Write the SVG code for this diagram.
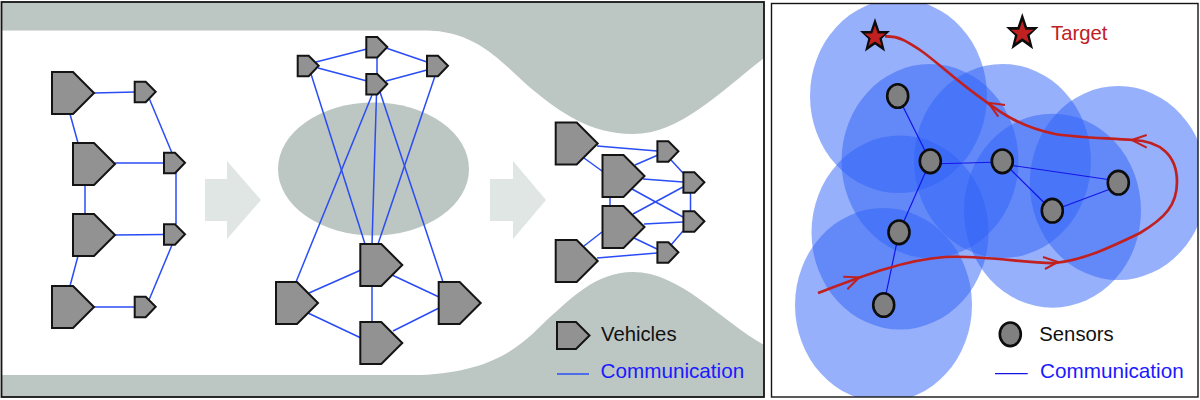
<svg xmlns="http://www.w3.org/2000/svg" width="1200" height="400" viewBox="0 0 1200 400">
<style>
.v{fill:#929292;stroke:#141414;stroke-width:2;stroke-linejoin:miter}
.bg{fill:#bcc6c3}
.ar{fill:#e0e6e4}
.c line{stroke:#2a4cf5;stroke-width:1.5}
.s line{stroke:#1414e8;stroke-width:1.2}
.r{fill:#2f61f7;opacity:.5}
.n{fill:#808080;stroke:#0c0c0c;stroke-width:2.6}
.t{fill:none;stroke:#c0201f;stroke-width:2.7;stroke-linecap:butt}
.h{fill:none;stroke:#c0201f;stroke-width:2}
text{font-family:"Liberation Sans",Arial,sans-serif;font-size:20.3px}
</style>
<defs>
<polygon id="L" class="v" points="0,0 21,0 42,21 21,42 0,42"/>
<polygon id="S" class="v" points="0,0 11,0 21,10 11,20.5 0,20.5"/>
<g id="star"><polygon fill="#0c0c0c" points="0,-19 4.4,-6 15,-6 6.8,1.8 10,14.5 0,7.5 -10,14.5 -6.8,1.8 -15,-6 -4.4,-6"/><polygon fill="#c0201f" points="0,-11.5 2.8,-3.5 10.5,-3.5 4.3,1.3 6.5,8.8 0,4.5 -6.5,8.8 -4.3,1.3 -10.5,-3.5 -2.8,-3.5"/></g>
<clipPath id="pc"><rect x="771.5" y="3.5" width="426.5" height="393.5"/></clipPath>
</defs>
<rect width="1200" height="400" fill="#fff"/>
<g id="left-panel">
<rect x="1.5" y="2" width="762.5" height="395" fill="#fff"/>
<path class="bg" d="M1.5,2H764V58C720,92 680,134 633,134C590,134 560,112 533,90C505,67 480,30.5 425,30.5H1.5Z"/>
<path class="bg" d="M1.5,397H764V345C720,320 680,272 633,272C595,272 570,300 550,317C530,335 505,372 420,375H1.5Z"/>
<ellipse class="bg" cx="373.5" cy="169" rx="95.5" ry="66.5"/>
<polygon class="ar" points="205,179 227,179 227,161 261,200 227,239 227,221 205,221"/>
<polygon class="ar" points="490,179 513,179 513,161 546,200 513,239 513,221 490,221"/>
<rect x="1.5" y="2" width="762.5" height="395" fill="none" stroke="#141414" stroke-width="1.8"/>
</g>
<g id="connectors" class="c">
<line x1="94" y1="93" x2="135" y2="92"/><line x1="70" y1="114" x2="78" y2="143"/><line x1="115" y1="163" x2="164" y2="163"/><line x1="85" y1="184" x2="85" y2="214"/><line x1="115" y1="235" x2="164" y2="234.5"/><line x1="78" y1="256" x2="70" y2="286"/><line x1="94" y1="307" x2="135" y2="307"/><line x1="149" y1="98" x2="172" y2="153"/><line x1="176" y1="173" x2="176" y2="224"/><line x1="172" y1="245" x2="149" y2="300"/>
<line x1="316" y1="62" x2="367" y2="49"/><line x1="318" y1="68" x2="367" y2="81"/><line x1="377" y1="57" x2="377" y2="74"/><line x1="386" y1="48" x2="427" y2="62"/><line x1="386" y1="81" x2="427" y2="70"/><line x1="311" y1="74" x2="365" y2="244"/><line x1="372" y1="95" x2="296" y2="282"/><line x1="376.5" y1="94" x2="372" y2="244"/><line x1="380" y1="92" x2="443" y2="282"/><line x1="378" y1="244" x2="435" y2="76"/><line x1="309" y1="293" x2="361" y2="270"/><line x1="308" y1="313" x2="361" y2="338"/><line x1="372" y1="286" x2="372" y2="322"/><line x1="392" y1="275" x2="439" y2="297"/><line x1="393" y1="331" x2="439" y2="308"/>
<line x1="597" y1="146" x2="657" y2="151"/><line x1="584" y1="158" x2="602" y2="171"/><line x1="635" y1="165" x2="658" y2="155"/><line x1="643" y1="179" x2="683" y2="182"/><line x1="610" y1="197" x2="610" y2="206"/><line x1="632" y1="189" x2="683" y2="217"/><line x1="633" y1="214" x2="683" y2="187"/><line x1="644" y1="224" x2="683" y2="222"/><line x1="634" y1="238" x2="657" y2="249"/><line x1="584" y1="246" x2="602" y2="232"/><line x1="597" y1="258" x2="657" y2="253"/><line x1="671" y1="160" x2="683" y2="173"/><line x1="690.5" y1="193" x2="690.5" y2="211"/><line x1="683" y1="231" x2="671" y2="245"/>
<line x1="557" y1="374" x2="589" y2="374"/>
</g>
<g id="v1"><use href="#L" x="52" y="72"/></g><g id="v2"><use href="#L" x="73" y="143"/></g><g id="v3"><use href="#L" x="73" y="214"/></g><g id="v4"><use href="#L" x="52" y="286"/></g>
<g id="v5"><use href="#S" x="134.7" y="81.7"/></g><g id="v6"><use href="#S" x="164" y="152.7"/></g><g id="v7"><use href="#S" x="164" y="224.3"/></g><g id="v8"><use href="#S" x="134.7" y="296.8"/></g>
<g id="v9"><use href="#S" x="297.7" y="55.7"/></g><g id="v10"><use href="#S" x="366.3" y="37"/></g><g id="v11"><use href="#S" x="366.3" y="74"/></g><g id="v12"><use href="#S" x="427" y="55.7"/></g>
<g id="v13"><use href="#L" x="360.3" y="244"/></g><g id="v14"><use href="#L" x="276" y="282"/></g><g id="v15"><use href="#L" x="360.3" y="322"/></g><g id="v16"><use href="#L" x="438.7" y="282"/></g>
<g id="v17"><use href="#L" x="555.7" y="122.5"/></g><g id="v18"><use href="#L" x="602.5" y="155"/></g><g id="v19"><use href="#L" x="602.5" y="206"/></g><g id="v20"><use href="#L" x="555.7" y="240"/></g>
<g id="v21"><use href="#S" x="657.4" y="141.3"/></g><g id="v22"><use href="#S" x="683.4" y="172.3"/></g><g id="v23"><use href="#S" x="683.4" y="211.3"/></g><g id="v24"><use href="#S" x="657.4" y="242.3"/></g>
<g id="legend-left">
<polygon class="v" points="557,322 576,322 589.5,335.5 576,349 557,349"/>
<text x="601" y="341" fill="#111">Vehicles</text>
<text x="600.5" y="378" fill="#1a1aff" style="font-size:20.7px">Communication</text>
</g>
<g id="right-panel">
<g clip-path="url(#pc)">
<ellipse class="r" cx="898.5" cy="96" rx="88.5" ry="97"/>
<ellipse class="r" cx="930" cy="161" rx="88.5" ry="97"/>
<ellipse class="r" cx="1002.5" cy="161" rx="88.5" ry="97"/>
<ellipse class="r" cx="1118.3" cy="183" rx="88.5" ry="97"/>
<ellipse class="r" cx="1052.5" cy="210.7" rx="88.5" ry="97"/>
<ellipse class="r" cx="900" cy="232.5" rx="88.5" ry="97"/>
<ellipse class="r" cx="883.5" cy="305" rx="88.5" ry="97"/>
</g>
<rect x="771.5" y="3.5" width="426.5" height="393.5" fill="none" stroke="#141414" stroke-width="1.4"/>
</g>
<g id="sensor-links" class="s">
<line x1="897.7" y1="96" x2="930.3" y2="161.3"/><line x1="930.3" y1="164" x2="1002.3" y2="162"/><line x1="930.3" y1="161.3" x2="899" y2="232.3"/><line x1="899" y1="232.3" x2="883.7" y2="305"/><line x1="1002.3" y1="164" x2="1118.3" y2="181"/><line x1="1002.3" y1="161.3" x2="1052.3" y2="210.7"/><line x1="1052.3" y1="210.7" x2="1118.3" y2="186"/>
<line x1="995" y1="373.7" x2="1027.7" y2="373.7"/>
</g>
<g id="s1"><ellipse class="n" cx="897.7" cy="96" rx="10.5" ry="11.8"/></g>
<g id="s2"><ellipse class="n" cx="930.3" cy="161.3" rx="10.5" ry="11.8"/></g>
<g id="s3"><ellipse class="n" cx="1002.3" cy="161.3" rx="10.5" ry="11.8"/></g>
<g id="s4"><ellipse class="n" cx="1118.3" cy="182.7" rx="10.5" ry="11.8"/></g>
<g id="s5"><ellipse class="n" cx="1052.3" cy="210.7" rx="10.5" ry="11.8"/></g>
<g id="s6"><ellipse class="n" cx="899" cy="232.3" rx="10.5" ry="11.8"/></g>
<g id="s7"><ellipse class="n" cx="883.7" cy="305" rx="10.5" ry="11.8"/></g>
<g id="target-path">
<path class="t" d="M818,293C850,281 900,260 945,257C985,255 1030,264 1055,263C1085,260 1115,245 1140,233C1165,218 1177,205 1177,182C1177,155 1160,141 1133,140C1110,138 1080,138 1055,134C1020,127 1000,112 985,101C955,80 935,60 920,50C908,42 900,36 885,36.5"/>
<polyline class="h" points="843.3,276.7 859.3,277.3 847.3,289.3"/>
<polyline class="h" points="1043,257 1058,262 1045,269"/>
<polyline class="h" points="1005,105 988.3,102.7 998.3,116.7"/>
<polyline class="h" points="1146.7,135 1131.7,140 1146.7,147.7"/>
</g>
<g id="target"><use href="#star" x="875" y="37"/></g>
<g id="legend-right">
<use href="#star" transform="translate(1022.3 33.5) scale(1.08)"/>
<text x="1051" y="39.5" fill="#c0201f">Target</text>
<ellipse class="n" cx="1010.3" cy="334.3" rx="10.5" ry="11.8"/>
<text x="1039.3" y="341" fill="#111">Sensors</text>
<text x="1040" y="378" fill="#1a1aff" style="font-size:20.7px">Communication</text>
</g>
</svg>
